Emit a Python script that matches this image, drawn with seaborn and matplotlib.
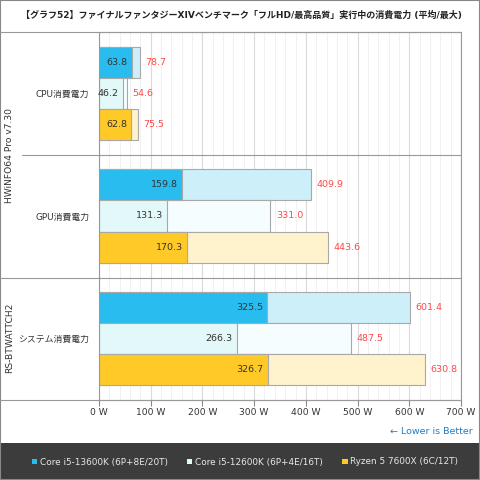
import numpy as np
import pandas as pd
import matplotlib
matplotlib.use("Agg")
import matplotlib.pyplot as plt
import seaborn as sns
from matplotlib.lines import Line2D
from matplotlib.patches import Rectangle, Patch
from matplotlib.ticker import MultipleLocator

# ── Data ──────────────────────────────────────────────────────────────────────
metrics = ["CPU消費電力", "GPU消費電力", "システム消費電力"]
cpus = ["Core i5-13600K (6P+8E/20T)", "Core i5-12600K (6P+4E/16T)", "Ryzen 5 7600X (6C/12T)"]
avg_13600k = [63.8, 159.8, 325.5]
avg_12600k = [46.2, 131.3, 266.3]
avg_7600x = [62.8, 170.3, 326.7]
max_13600k = [78.7, 409.9, 601.4]
max_12600k = [54.6, 331.0, 487.5]
max_7600x = [75.5, 443.6, 630.8]
x_ticks = [0, 100, 200, 300, 400, 500, 600, 700]
sources = ["HWiNFO64 Pro v7.30", "RS-BTWATTCH2"]

title = "【グラフ52】ファイナルファンタジーXIVベンチマーク「フルHD/最高品質」実行中の消費電力 (平均/最大)"

avg_colors = ["#29BDEF", "#E2F8F9", "#FFC928"]
max_colors = ["#CDEFFA", "#F5FDFE", "#FFF3CD"]

rows = []
for cpu, a, m in zip(cpus, [avg_13600k, avg_12600k, avg_7600x], [max_13600k, max_12600k, max_7600x]):
    for met, av, mx in zip(metrics, a, m):
        rows.append({"metric": met, "cpu": cpu, "avg": av, "max": mx})
df = pd.DataFrame(rows)

sns.set_theme(style="white")
plt.rcParams["font.family"] = ["DejaVu Sans", "Noto Sans CJK JP"]

fig = plt.figure(figsize=(4.8, 4.8), dpi=100)
W, H = 480, 480
ax = fig.add_axes([99 / W, 1 - 400 / H, (461 - 99) / W, (400 - 32) / H])

# ── Bars: max first, avg on top ──────────────────────────────────────────────
sns.barplot(data=df, x="max", y="metric", hue="cpu", hue_order=cpus, order=metrics,
            palette=max_colors, saturation=1, orient="h", width=0.76, dodge=True, ax=ax,
            edgecolor="#A8A8A8", linewidth=0.8, legend=False, errorbar=None)
sns.barplot(data=df, x="avg", y="metric", hue="cpu", hue_order=cpus, order=metrics,
            palette=avg_colors, saturation=1, orient="h", width=0.76, dodge=True, ax=ax,
            edgecolor="#A8A8A8", linewidth=0.8, legend=False, errorbar=None)

n = len(cpus)
max_conts = ax.containers[:n]
avg_conts = ax.containers[n:]
for c in max_conts:
    ax.bar_label(c, labels=[f"{v:.1f}" for v in c.datavalues], padding=4,
                 color="#FF4848", fontsize=6.8)
for c in avg_conts:
    txts = ax.bar_label(c, labels=[f"{v:.1f}" for v in c.datavalues], padding=-3,
                        color="#333333", fontsize=6.8)
    for t in txts:
        t.set_ha("right")

ax.set_xlim(0, 700)
ax.set_ylim(2.5, -0.5)
ax.set_xticks(x_ticks)
ax.set_xticklabels([f"{v} W" for v in x_ticks])
ax.xaxis.set_minor_locator(MultipleLocator(20))
ax.grid(which="major", axis="x", color="#DADADA", linewidth=0.8)
ax.grid(which="minor", axis="x", color="#EFEFEF", linewidth=0.6)
ax.set_axisbelow(True)
ax.set_xlabel("")
ax.set_ylabel("")
ax.tick_params(axis="x", which="major", length=4, width=0.8, color="#888888",
               labelsize=6.6, labelcolor="#333333", pad=2, bottom=True)
ax.tick_params(axis="x", which="minor", length=0)
ax.tick_params(axis="y", length=0, labelsize=6.4, labelcolor="#333333", pad=7)
for s in ax.spines.values():
    s.set_color("#999999")
    s.set_linewidth(0.8)

# ── Table lines around the label area ────────────────────────────────────────
def hline(y, x0, x1):
    fig.add_artist(Line2D([x0 / W, x1 / W], [1 - y / H, 1 - y / H], color="#999999", lw=0.8))

hline(32, 0, 461)
hline(400, 0, 461)
hline(155, 22, 461)
hline(278, 0, 461)

fig.text(10 / W, 1 - 155 / H, sources[0], rotation=90, ha="center", va="center",
         fontsize=6.6, color="#333333")
fig.text(10 / W, 1 - 338 / H, sources[1], rotation=90, ha="center", va="center",
         fontsize=6.6, color="#333333")

fig.text(241 / W, 1 - 15 / H, title, ha="center", va="center", fontsize=6.5,
         fontweight="bold", color="#222222")
fig.text(473 / W, 1 - 431 / H, "← Lower is Better", ha="right", va="center",
         fontsize=6.8, color="#1F7BC8")

# ── Legend band ───────────────────────────────────────────────────────────────
fig.add_artist(Rectangle((0, 0), 1, 37 / H, transform=fig.transFigure,
                         facecolor="#3C3C3C", edgecolor="none"))
handles = [Patch(facecolor=c, edgecolor="none") for c in avg_colors]
leg = fig.legend(handles, cpus, loc="center", bbox_to_anchor=(245 / W, 1 - 462 / H), ncol=3,
                 frameon=False, fontsize=6.4, handlelength=0.6, handleheight=0.6,
                 handletextpad=0.3, columnspacing=2.2, labelcolor="#E8E8E8")

fig.add_artist(Rectangle((0, 0), 1, 1, transform=fig.transFigure, facecolor="none",
                         edgecolor="#888888", linewidth=1.5))

fig.savefig("out.png", dpi=100)
